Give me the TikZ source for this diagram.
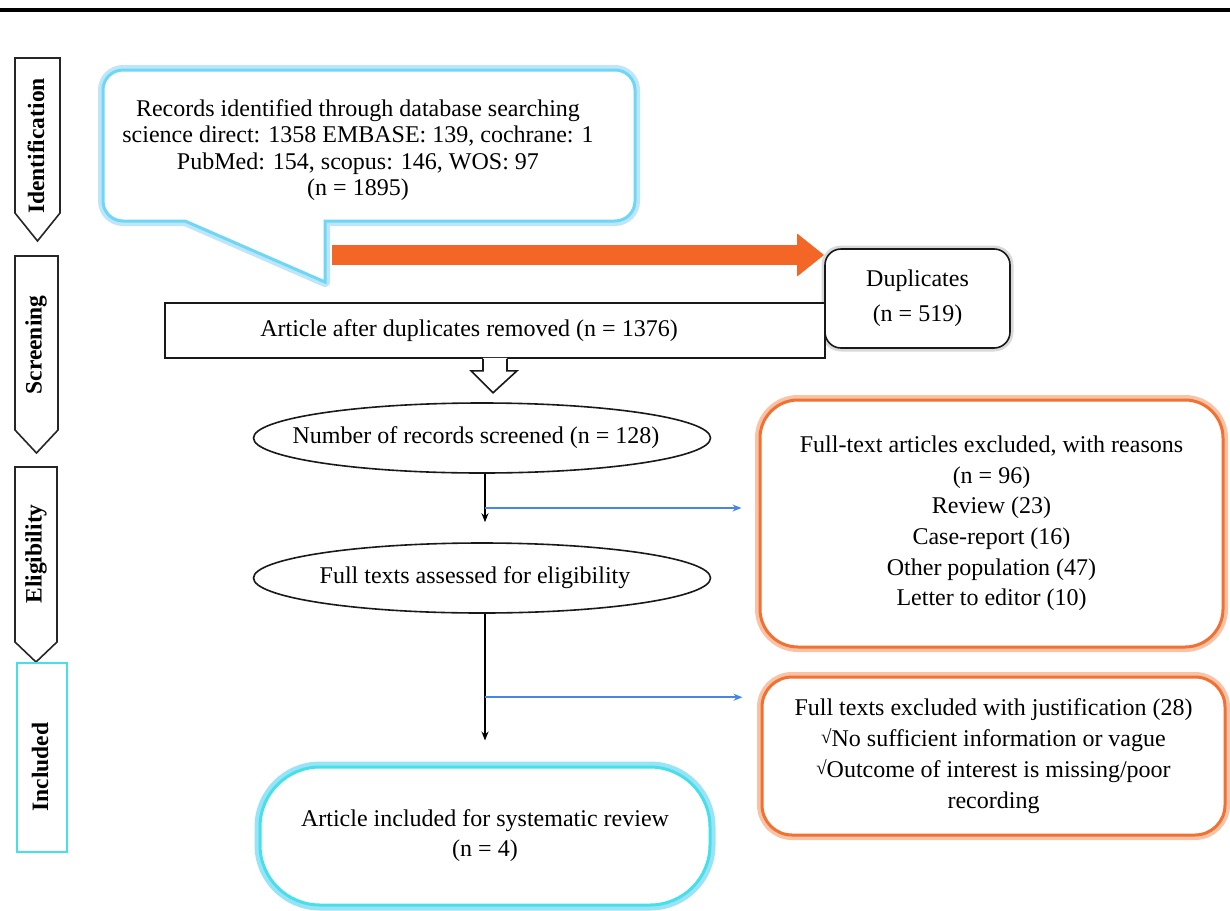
\documentclass[tikz,border=0pt]{standalone}
\usepackage{fontspec}
\setmainfont{Liberation Serif}
\usetikzlibrary{arrows.meta,shapes.geometric,calc}
\definecolor{ocol}{RGB}{242,112,50}
\definecolor{oglow}{RGB}{250,195,165}
\definecolor{oarrow}{RGB}{243,102,38}
\definecolor{ccol}{RGB}{110,215,245}
\definecolor{cglow}{RGB}{190,230,250}
\definecolor{icyan}{RGB}{70,225,232}
\definecolor{bcol}{RGB}{70,135,230}
\tikzset{
  txt/.style={font=\fontsize{24}{27}\selectfont, align=center},
  phasebox/.style={draw=black!85, line width=1.6pt, fill=white},
  phasetext/.style={rotate=90, font=\fontsize{23.5}{27}\selectfont\bfseries},
  plain/.style={draw=black!90, line width=1.6pt, fill=white},
  oval/.style={ellipse, draw=black!90, line width=1.6pt, inner sep=0pt, minimum width=457pt, minimum height=70pt},
  obox/.style={draw=ocol, line width=3pt, fill=white, preaction={draw=oglow, line width=10pt}, txt},
  blk/.style={draw=black, line width=1.5pt, -{Stealth[length=9pt,width=7pt]}},
  blu/.style={draw=bcol, line width=1.5pt, -{Stealth[length=9pt,width=7pt]}},
}
\newcommand{\chk}{\raisebox{3pt}{\fontsize{19}{19}\selectfont √}}
\begin{document}
\begin{tikzpicture}[x=1pt,y=-1pt]
\useasboundingbox (0,0) rectangle (1230,910);
% top rule
\draw[line width=4pt] (0,10) -- (1230,10);

% phase labels
\draw[phasebox] (15,58) -- (60,58) -- (60,213) -- (37.5,241) -- (15,213) -- cycle;
\node[phasetext] (pid) at (36,146) {Identification};
\draw[phasebox] (15,256) -- (58,256) -- (58,430) -- (36.5,453) -- (15,430) -- cycle;
\node[phasetext] (psc) at (36,345) {Screening};
\draw[phasebox] (15,467) -- (57,467) -- (57,642) -- (36,662) -- (15,642) -- cycle;
\node[phasetext] (pel) at (36,554) {Eligibility};
\node[draw=icyan, line width=2pt, minimum width=50pt, minimum height=189pt] (pin) at (42,757.5) {};
\node[phasetext] at (40,767) {Included};

% callout
\path[fill=white, draw=cglow, line width=10pt, line join=round]
  (325,282) -- (185,221) [rounded corners=20pt] -- (103,221) -- (103,70) -- (635,70) -- (635,221) [sharp corners] -- (325,221) -- cycle;
\path[fill=white, draw=ccol, line width=3pt, line join=miter]
  (325,282) -- (185,221) [rounded corners=20pt] -- (103,221) -- (103,70) -- (635,70) -- (635,221) [sharp corners] -- (325,221) -- cycle;
\node[txt, font=\fontsize{24}{26.5}\selectfont] (rec) at (358,150) {Records identified through database searching\\science direct: 1358 EMBASE: 139, cochrane: 1\\PubMed: 154, scopus: 146, WOS: 97\\(n = 1895)};

% duplicates
\node[draw=black!90, line width=1.6pt, rounded corners=16pt, fill=white,
      preaction={draw=black!15, line width=7pt},
      minimum width=185pt, minimum height=99pt, txt, font=\fontsize{24}{35}\selectfont] (dup) at (917.5,298.5) {Duplicates\\(n = 519)};

% orange thick arrow
\coordinate (oa) at (332,255);
\draw[draw=oarrow, line width=20pt, -{Triangle[length=27pt,width=41pt]}] (oa) -- (oa -| dup.west);

% article after duplicates removed
\node[plain, minimum width=660pt, minimum height=55pt,
      label={[txt, xshift=-26pt]center:Article after duplicates removed (n = 1376)}] (art) at (495,330.5) {};

% hollow arrow
\begin{scope}[shift={(art.south)}]
  \fill[white] (-12,-1) -- (-12,12) -- (-24,12) -- (-10,34) -- (0,34) -- (24,12) -- (12,12) -- (12,-1) -- cycle;
  \draw[black!90, line width=1.6pt, line join=miter] (-12,0) -- (-12,12) -- (-24,12) -- (-2,34) -- (22,12) -- (12,12) -- (12,0);
\end{scope}

% ellipses
\node[oval, label={[txt, xshift=-6pt]center:Number of records screened (n = 128)}] (scr) at (482,438) {};
\node[oval, label={[txt, xshift=-7pt]center:Full texts assessed for eligibility}] (elig) at (482,578) {};

% excluded boxes
\node[obox, rounded corners=38pt, minimum width=463pt, minimum height=247pt,
      font=\fontsize{24}{30.6}\selectfont] (ex1) at (991.5,523.5) {Full-text articles excluded, with reasons\\(n = 96)\\Review (23)\\Case-report (16)\\Other population (47)\\Letter to editor (10)};
\node[obox, rounded corners=30pt, minimum width=463pt, minimum height=158pt,
      font=\fontsize{24}{31}\selectfont] (ex2) at (993.5,756) {Full texts excluded with justification (28)\\\chk No sufficient information or vague\\\chk Outcome of interest is missing/poor\\recording};

% final box
\node[draw=icyan, line width=3pt, fill=white, rounded corners=60pt,
      preaction={draw=ccol!70, line width=11pt},
      minimum width=450pt, minimum height=138pt, txt, font=\fontsize{24}{30}\selectfont] (fin) at (485,836) {Article included for systematic review\\(n = 4)};

% connectors
\coordinate (s1) at ($(scr.south)+(3,0)$);
\coordinate (s2) at ($(elig.south)+(3,0)$);
\coordinate (b1) at ($(s1)!0.5!(s1 |- elig.north)$);
\coordinate (b2) at ($(s2)!0.55!(s2 |- fin.north)$);
\draw[blk, shorten >=20pt] (s1) -- (s1 |- elig.north);
\draw[blk, shorten >=25pt] (s2) -- (s2 |- fin.north);
\draw[blu, shorten >=17pt] (b1) -- (b1 -| ex1.west);
\draw[blu, shorten >=18pt] (b2) -- (b2 -| ex2.west);
\end{tikzpicture}
\end{document}
